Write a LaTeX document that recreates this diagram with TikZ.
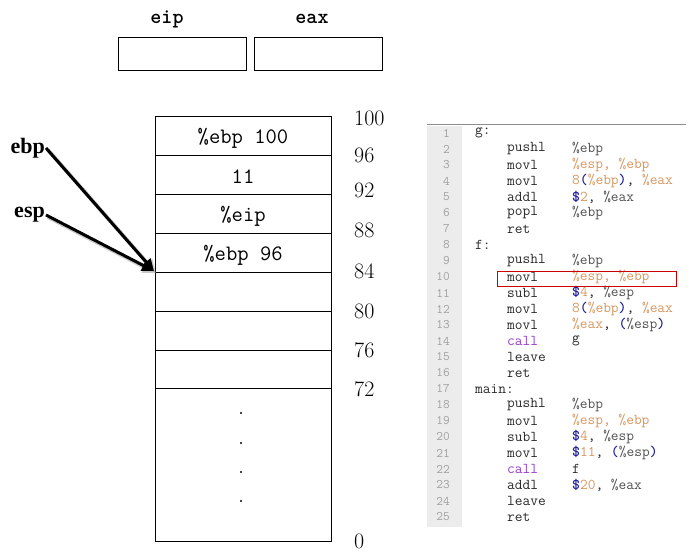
\documentclass[tikz,border=0pt]{standalone}
\usepackage{fontspec}
\usetikzlibrary{arrows.meta}
\newfontfamily\serifb{Liberation Serif}
\definecolor{codeor}{RGB}{214,150,95}
\definecolor{codebl}{RGB}{30,30,160}
\definecolor{codepu}{RGB}{150,60,210}
\definecolor{codedk}{RGB}{40,40,40}
\definecolor{codegr}{RGB}{80,80,80}
\definecolor{gutter}{RGB}{236,236,236}
\definecolor{lnum}{RGB}{160,160,160}
\newcommand{\OR}[1]{\textcolor{codeor}{#1}}
\newcommand{\BL}[1]{\textcolor{codebl}{\bfseries #1}}
\newcommand{\GR}[1]{\textcolor{codegr}{#1}}
\begin{document}
\begin{tikzpicture}[x=1pt,y=-1pt,
  regbox/.style={draw,line width=0.8pt,minimum width=128pt,minimum height=33pt,inner sep=0pt},
  reglabel/.style={font=\ttfamily\bfseries\fontsize{21}{21}\selectfont},
  ptrlabel/.style={font=\serifb\bfseries\fontsize{22}{22}\selectfont},
  celltext/.style={font=\ttfamily\fontsize{22}{22}\selectfont},
  addr/.style={anchor=west,font=\fontsize{22}{22}\selectfont,inner sep=0pt},
  ptrarrow/.style={line width=3pt,-{Triangle[length=12pt,width=11pt]}},
  shadowarrow/.style={line width=4pt,black!35,opacity=0.6,-{Triangle[length=13pt,width=12pt]}},
  lnumst/.style={anchor=east,inner sep=0pt,font=\ttfamily\fontsize{13}{13}\selectfont,text=lnum},
  codest/.style={anchor=west,inner sep=0pt,font=\ttfamily\fontsize{15}{15}\selectfont,text=codedk}
]
\useasboundingbox (0,0) rectangle (691,559);
% registers
\node[reglabel] (leip) at (167,19) {eip};
\node[reglabel] (leax) at (312,19) {eax};
\node[regbox] (beip) at (182,53.5) {};
\node[regbox] (beax) at (318,53.5) {};
% stack
\draw[line width=0.8pt] (155,116) rectangle (331,541);
\foreach \yy in {155,194,233,272,311,350,388}
  \draw[line width=0.8pt] (155,\yy) -- (331,\yy);
\node[celltext] (c1) at (243,138) {\%ebp 100};
\node[celltext] (c2) at (243,177) {11};
\node[celltext] (c3) at (243,216) {\%eip};
\node[celltext] (c4) at (243,255) {\%ebp 96};
\foreach \yy in {413,443,472,501}
  \fill (241,\yy) circle (1.2pt);
% addresses
\node[addr] (a100) at (354,118) {100};
\node[addr] (a96) at (354,155) {96};
\node[addr] (a92) at (354,190) {92};
\node[addr] (a88) at (354,230) {88};
\node[addr] (a84) at (354,271) {84};
\node[addr] (a80) at (354,311) {80};
\node[addr] (a76) at (354,350) {76};
\node[addr] (a72) at (354,389) {72};
\node[addr] (a0) at (354,541) {0};
% pointers
\node[ptrlabel,anchor=east,inner sep=1pt] (ebp) at (46,148) {ebp};
\node[ptrlabel,anchor=east,inner sep=1pt] (esp) at (46,215) {esp};
\coordinate (tgt) at (154,271);
\coordinate (tgts) at (156,273);
\draw[shadowarrow] ([shift={(2,2)}]ebp.east) -- (tgts);
\draw[shadowarrow] ([shift={(2,2)}]esp.east) -- (tgts);
\draw[ptrarrow] (ebp.east) -- (tgt);
\draw[ptrarrow] (esp.east) -- (tgt);
% code panel
\fill[gutter] (427,126) rectangle (462,527);
\draw[black!45,line width=1pt] (427,125) -- (686,125);
\foreach \n in {1,...,25}
  \node[lnumst] at (450,{133+16*(\n-1)}) {\n};
\newcommand{\cl}[3]{%
  \node[codest] at (507,{133+16*(#1-1)}) {#2};
  \node[codest] at (572,{133+16*(#1-1)}) {#3};}
\node[codest] (lg) at (475,133) {g:};
\cl{2}{pushl}{\GR{\%ebp}}
\cl{3}{movl}{\OR{\%esp, \%ebp}}
\cl{4}{movl}{\OR{8}\BL{(}\OR{\%ebp}\BL{)}, \OR{\%eax}}
\cl{5}{addl}{\BL{\$}\OR{2}, \GR{\%eax}}
\cl{6}{popl}{\GR{\%ebp}}
\cl{7}{ret}{}
\node[codest] (lf) at (475,245) {f:};
\cl{9}{pushl}{\GR{\%ebp}}
\cl{10}{movl}{\OR{\%esp, \%ebp}}
\cl{11}{subl}{\BL{\$}\OR{4}, \GR{\%esp}}
\cl{12}{movl}{\OR{8}\BL{(}\OR{\%ebp}\BL{)}, \OR{\%eax}}
\cl{13}{movl}{\OR{\%eax}, \BL{(}\GR{\%esp}\BL{)}}
\cl{14}{\textcolor{codepu}{call}}{g}
\cl{15}{leave}{}
\cl{16}{ret}{}
\node[codest] (lmain) at (475,389) {main:};
\cl{18}{pushl}{\GR{\%ebp}}
\cl{19}{movl}{\OR{\%esp, \%ebp}}
\cl{20}{subl}{\BL{\$}\OR{4}, \GR{\%esp}}
\cl{21}{movl}{\BL{\$}\OR{11}, \BL{(}\GR{\%esp}\BL{)}}
\cl{22}{\textcolor{codepu}{call}}{f}
\cl{23}{addl}{\BL{\$}\OR{20}, \GR{\%eax}}
\cl{24}{leave}{}
\cl{25}{ret}{}
\draw[red!80!black,line width=0.8pt] (497,271) rectangle (676,286);
\end{tikzpicture}
\end{document}
